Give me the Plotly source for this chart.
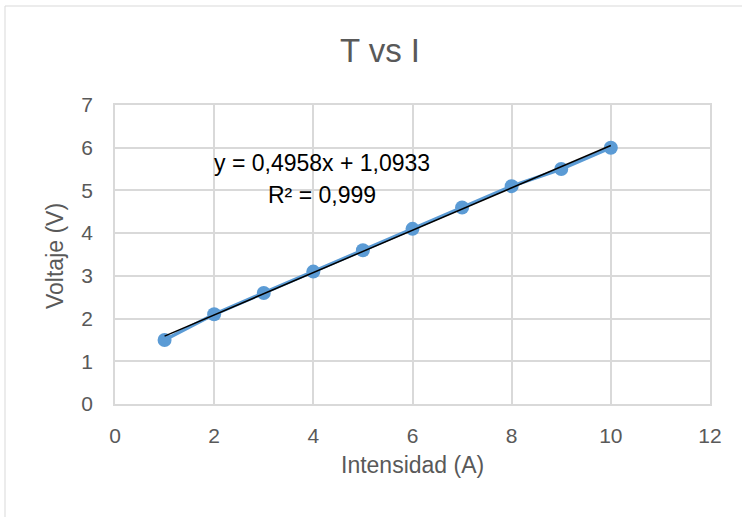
import plotly.graph_objects as go

intensidad = [1, 2, 3, 4, 5, 6, 7, 8, 9, 10]
voltaje = [1.5, 2.1, 2.6, 3.1, 3.6, 4.1, 4.6, 5.1, 5.5, 6.0]
slope = 0.4958
intercept = 1.0933
x_ticks = [0, 2, 4, 6, 8, 10, 12]
y_ticks = [0, 1, 2, 3, 4, 5, 6, 7]

font = "Liberation Sans"
grey = "#595959"

trend_x = [intensidad[0], intensidad[-1]]
trend_y = [slope * v + intercept for v in trend_x]

fig = go.Figure()
fig.add_trace(go.Scatter(x=intensidad, y=voltaje, mode="lines+markers",
                         line=dict(color="#5b9bd5", width=3.5),
                         marker=dict(color="#5b9bd5", size=14),
                         showlegend=False))
fig.add_trace(go.Scatter(x=trend_x, y=trend_y, mode="lines",
                         line=dict(color="black", width=1.5),
                         showlegend=False))

L, R, T, B = 115, 32, 105, 113
W, H = 742, 517
pw, ph = W - L - R, H - T - B
fig.add_shape(type="rect", xref="paper", yref="paper",
              x0=(5 - L) / pw, x1=(W + 5 - L) / pw,
              y0=-(B + 5) / ph, y1=1 + (T - 6) / ph,
              line=dict(color="#d9d9d9", width=1), layer="below")

fig.add_annotation(x=4.17, y=5.64, xref="x", yref="y", showarrow=False,
                   text="y = 0,4958x + 1,0933", font=dict(family=font, size=23, color="black"))
fig.add_annotation(x=4.17, y=4.9, xref="x", yref="y", showarrow=False,
                   text="R² = 0,999", font=dict(family=font, size=23, color="black"))

# axis titles
fig.add_annotation(x=(412 - L) / pw, y=-(465 - (T + ph)) / ph, xref="paper", yref="paper",
                   showarrow=False, text="Intensidad (A)", xanchor="center", yanchor="middle",
                   font=dict(family=font, size=23, color=grey))
fig.add_annotation(x=(55 - L) / pw, y=1 - (256 - T) / ph, xref="paper", yref="paper",
                   showarrow=False, text="Voltaje (V)", textangle=-90, xanchor="center", yanchor="middle",
                   font=dict(family=font, size=23, color=grey))

fig.update_layout(
    width=W, height=H, margin=dict(l=L, r=R, t=T, b=B),
    paper_bgcolor="white", plot_bgcolor="white",
    title=dict(text="T vs I", x=380 / W, xanchor="center", y=1 - 50 / H, yanchor="middle",
               font=dict(family=font, size=33, color=grey)),
    xaxis=dict(range=[0, 12], tickvals=x_ticks, showgrid=True, gridcolor="#d9d9d9", gridwidth=1.5,
               zeroline=False, showline=True, linecolor="#d9d9d9", linewidth=1.5, mirror=True,
               ticks="", ticklabelstandoff=12, tickfont=dict(family=font, size=21, color=grey)),
    yaxis=dict(range=[0, 7], tickvals=y_ticks, showgrid=True, gridcolor="#d9d9d9", gridwidth=1.5,
               zeroline=False, showline=True, linecolor="#d9d9d9", linewidth=1.5, mirror=True,
               ticks="", ticklabelstandoff=16, tickfont=dict(family=font, size=21, color=grey)),
)
fig.write_html("out.html")
